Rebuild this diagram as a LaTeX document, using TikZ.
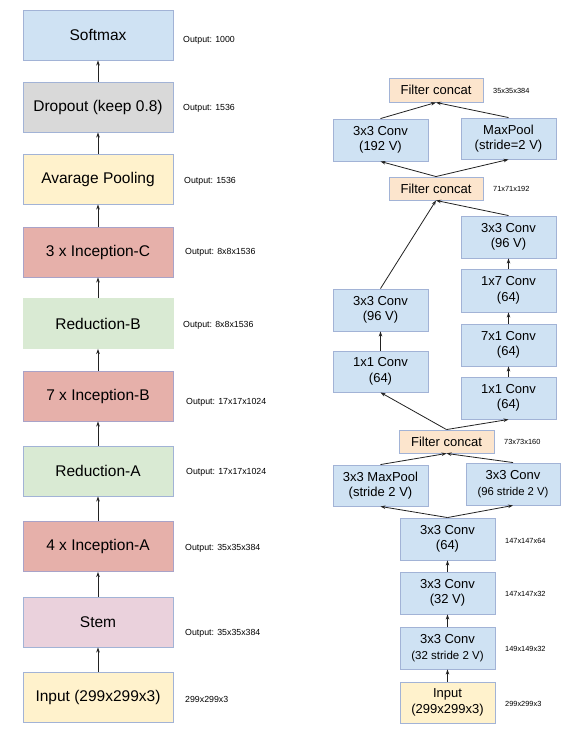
\documentclass[tikz,border=0pt]{standalone}
\usepackage{fontspec}
\setmainfont{Liberation Sans}
\usetikzlibrary{arrows.meta}
\definecolor{cblue}{HTML}{CFE2F3}
\definecolor{cgray}{HTML}{D9D9D9}
\definecolor{cyellow}{HTML}{FFF2CC}
\definecolor{cred}{HTML}{E6B0AA}
\definecolor{cgreen}{HTML}{D9EAD3}
\definecolor{cpink}{HTML}{EAD1DC}
\definecolor{corange}{HTML}{FCE5CD}
\definecolor{cborder}{HTML}{A2B3D6}
\definecolor{credb}{HTML}{A9A3C8}
\definecolor{carrow}{HTML}{222222}
\begin{document}
\begin{tikzpicture}[x=1pt,y=-1pt,
  bigbox/.style={draw=cborder,line width=0.9pt,minimum width=150pt,minimum height=50pt,inner sep=0pt,font=\fontsize{15.5}{18}\selectfont},
  smallbox/.style={draw=cborder,line width=0.9pt,minimum width=95pt,minimum height=42pt,inner sep=0pt,align=center,font=\fontsize{13}{15.5}\selectfont},
  concatbox/.style={smallbox,fill=corange,minimum height=23pt},
  biglabel/.style={anchor=west,inner sep=0pt,font=\fontsize{8.8}{10}\selectfont},
  smalllabel/.style={anchor=west,inner sep=0pt,font=\fontsize{7.4}{9}\selectfont},
  arr/.style={-{Stealth[length=5pt,width=3.5pt]},draw=carrow,line width=0.8pt}]
\useasboundingbox (0,0) rectangle (584,737);
\fill[white] (0,0) rectangle (584,737);
% left column
\node[bigbox,fill=cblue] (soft) at (98,35) {Softmax};
\node[bigbox,fill=cgray] (drop) at (98,107) {Dropout (keep 0.8)};
\node[bigbox,fill=cyellow] (avg) at (98,179) {Avarage Pooling};
\node[bigbox,fill=cred,draw=credb] (incc) at (98,252) {3 x Inception-C};
\node[bigbox,fill=cgreen,draw=cgreen] (redb) at (98,323.5) {Reduction-B};
\node[bigbox,fill=cred,draw=credb] (incb) at (98,396) {7 x Inception-B};
\node[bigbox,fill=cgreen] (reda) at (98,471) {Reduction-A};
\node[bigbox,fill=cred,draw=credb] (inca) at (98,546.5) {4 x Inception-A};
\node[bigbox,fill=cpink] (stem) at (98,622) {Stem};
\node[bigbox,fill=cyellow] (inp) at (98,697.5) {Input (299x299x3)};
\node[biglabel] (lsoft) at (183,40) {Output: 1000};
\node[biglabel] (ldrop) at (183,108) {Output: 1536};
\node[biglabel] (lavg) at (184,181) {Output: 1536};
\node[biglabel] (lincc) at (185,252) {Output: 8x8x1536};
\node[biglabel] (lredb) at (183,325) {Output: 8x8x1536};
\node[biglabel] (lincb) at (186,402) {Output: 17x17x1024};
\node[biglabel] (lreda) at (186,472) {Output: 17x17x1024};
\node[biglabel] (linca) at (185,548) {Output: 35x35x384};
\node[biglabel] (lstem) at (185,633) {Output: 35x35x384};
\node[biglabel] (linp) at (185,699) {299x299x3};
\draw[arr] (drop.north) -- (soft.south);
\draw[arr] (avg.north) -- (drop.south);
\draw[arr] (incc.north) -- (avg.south);
\draw[arr] (redb.north) -- (incc.south);
\draw[arr] (incb.north) -- (redb.south);
\draw[arr] (reda.north) -- (incb.south);
\draw[arr] (inca.north) -- (reda.south);
\draw[arr] (stem.north) -- (inca.south);
\draw[arr] (inp.north) -- (stem.south);
% right column
\node[concatbox,minimum height=24pt,minimum width=94pt] (fc1) at (436,90) {Filter concat};
\node[smallbox,fill=cblue] (c192) at (380.5,140) {3x3 Conv\\(192 V)};
\node[smallbox,fill=cblue,minimum height=41pt] (mp) at (508.5,138.5) {MaxPool\\(stride=2 V)};
\node[concatbox,minimum width=94pt] (fc2) at (436,188.5) {Filter concat};
\node[smallbox,fill=cblue] (c96r) at (508.5,237) {3x3 Conv\\(96 V)};
\node[smallbox,fill=cblue,minimum height=43pt] (c17) at (508.5,290.5) {1x7 Conv\\(64)};
\node[smallbox,fill=cblue] (c96l) at (380.5,310) {3x3 Conv\\(96 V)};
\node[smallbox,fill=cblue] (c71) at (508.5,345) {7x1 Conv\\(64)};
\node[smallbox,fill=cblue,minimum height=41pt] (c11l) at (380.5,371.5) {1x1 Conv\\(64)};
\node[smallbox,fill=cblue] (c11r) at (508.5,398) {1x1 Conv\\(64)};
\node[concatbox] (fc3) at (446.5,441.5) {Filter concat};
\node[smallbox,fill=cblue,minimum height=41pt] (mp3) at (380.5,485.5) {3x3 MaxPool\\(stride 2 V)};
\node[smallbox,fill=cblue,minimum width=94pt] (c96s) at (513,484) {3x3 Conv\\{\fontsize{11.3}{15.5}\selectfont(96 stride 2 V)}};
\node[smallbox,fill=cblue] (c64) at (447.5,539) {3x3 Conv\\(64)};
\node[smallbox,fill=cblue] (c32) at (447.5,593) {3x3 Conv\\(32 V)};
\node[smallbox,fill=cblue] (c32s) at (447.5,648) {3x3 Conv\\{\fontsize{11.5}{15.5}\selectfont(32 stride 2 V)}};
\node[smallbox,fill=cyellow,minimum height=41pt] (rin) at (447.5,702.5) {Input\\(299x299x3)};
\node[smalllabel] (l1) at (493,91) {35x35x384};
\node[smalllabel] (l2) at (493,189) {71x71x192};
\node[smalllabel] (l3) at (504,442) {73x73x160};
\node[smalllabel] (l4) at (505,541) {147x147x64};
\node[smalllabel] (l5) at (505,594) {147x147x32};
\node[smalllabel] (l6) at (505,649) {149x149x32};
\node[smalllabel] (l7) at (505,704) {299x299x3};
\draw[arr] (c192.north) -- (fc1.south);
\draw[arr] (mp.north) -- (fc1.south);
\draw[arr] (fc2.north) -- (c192.south);
\draw[arr] (fc2.north) -- (mp.south);
\draw[arr] (c96l.north) -- (fc2.south);
\draw[arr] (c96r.north) -- (fc2.south);
\draw[arr] (c17.north) -- (c96r.south);
\draw[arr] (c71.north) -- (c17.south);
\draw[arr] (c11r.north) -- (c71.south);
\draw[arr] (c11l.north) -- (c96l.south);
\draw[arr] (fc3.north) -- (c11l.south);
\draw[arr] (fc3.north) -- (c11r.south);
\draw[arr] (mp3.north) -- (fc3.south);
\draw[arr] (c96s.north) -- (fc3.south);
\draw[arr] (c64.north) -- (mp3.south);
\draw[arr] (c64.north) -- (c96s.south);
\draw[arr] (c32.north) -- (c64.south);
\draw[arr] (c32s.north) -- (c32.south);
\draw[arr] (rin.north) -- (c32s.south);
\end{tikzpicture}
\end{document}
